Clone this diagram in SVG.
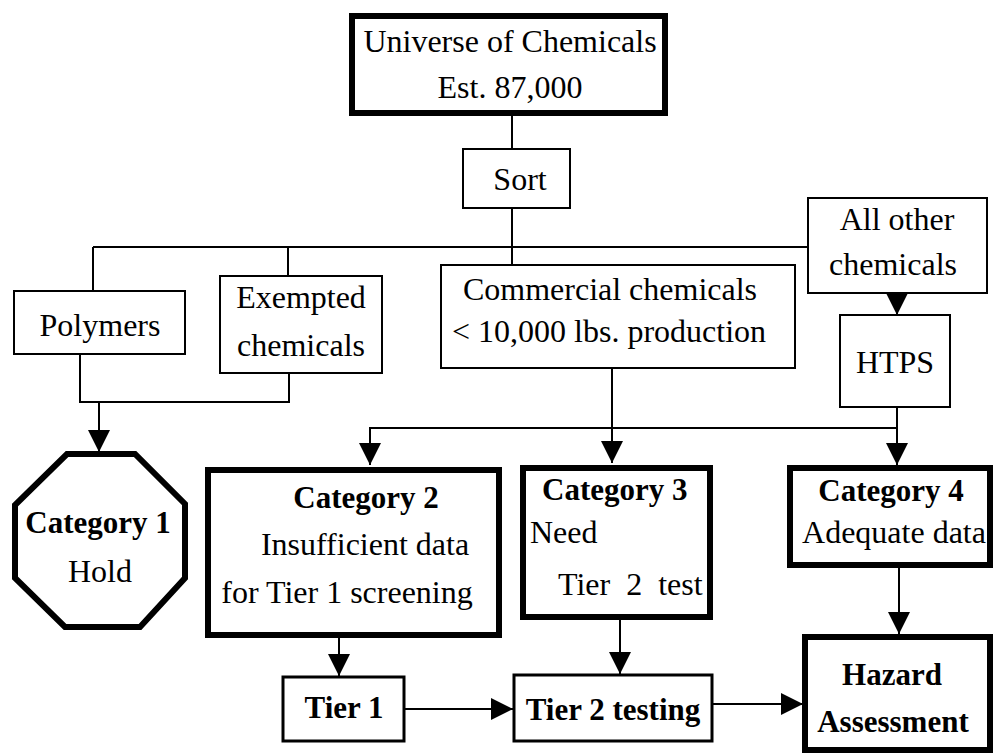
<svg xmlns="http://www.w3.org/2000/svg" width="997" height="756" viewBox="0 0 997 756">
<style>
text{font-family:"Liberation Serif","Times New Roman",serif;font-size:32px;fill:#000;text-anchor:middle}
text.b{font-weight:bold;font-size:31px}
text.l{text-anchor:start}
.thin{fill:#fff;stroke:#000;stroke-width:2}
.mid{fill:#fff;stroke:#000;stroke-width:3}
.thick{fill:#fff;stroke:#000;stroke-width:6}
.c{fill:none;stroke:#000;stroke-width:2}
</style>
<defs>
<marker id="ah" markerUnits="userSpaceOnUse" markerWidth="24" markerHeight="24" refX="22" refY="11" orient="auto" viewBox="0 0 24 24">
<path d="M0,0 L22,11 L0,22 Z" fill="#000"/>
</marker>
</defs>
<rect width="997" height="756" fill="#fff"/>
<g id="connectors">
<line class="c" x1="512" y1="116" x2="512" y2="148"/>
<line class="c" x1="512" y1="209" x2="512" y2="265"/>
<line class="c" x1="93" y1="247" x2="808" y2="247"/>
<line class="c" x1="93" y1="247" x2="93" y2="291"/>
<line class="c" x1="288" y1="247" x2="288" y2="276"/>
<polyline class="c" points="80,354 80,402 289,402 289,373"/>
<line class="c" x1="99" y1="402" x2="99" y2="452" marker-end="url(#ah)"/>
<line class="c" x1="897" y1="293" x2="897" y2="315" marker-end="url(#ah)"/>
<line class="c" x1="897" y1="407" x2="897" y2="465" marker-end="url(#ah)"/>
<line class="c" x1="370" y1="428" x2="897" y2="428"/>
<line class="c" x1="370" y1="427" x2="370" y2="465" marker-end="url(#ah)"/>
<line class="c" x1="612" y1="368" x2="612" y2="463" marker-end="url(#ah)"/>
<line class="c" x1="339" y1="638" x2="339" y2="676" marker-end="url(#ah)"/>
<line class="c" x1="620" y1="620" x2="620" y2="674" marker-end="url(#ah)"/>
<line class="c" x1="899" y1="568" x2="899" y2="634" marker-end="url(#ah)"/>
<line class="c" x1="405" y1="709" x2="513" y2="709" marker-end="url(#ah)"/>
<line class="c" x1="713" y1="704" x2="803" y2="704" marker-end="url(#ah)"/>
</g>
<g id="universe">
<rect class="thick" x="352" y="16" width="313" height="97"/>
<text x="510" y="52">Universe of Chemicals</text>
<text x="510" y="98">Est. 87,000</text>
</g>
<g id="sort">
<rect class="thin" x="463" y="149" width="107" height="59"/>
<text x="520" y="190">Sort</text>
</g>
<g id="allother">
<rect class="thin" x="808" y="198" width="179" height="95"/>
<text x="897" y="230">All other</text>
<text x="893" y="275">chemicals</text>
</g>
<g id="polymers">
<rect class="thin" x="14" y="291" width="171" height="63"/>
<text x="100" y="336">Polymers</text>
</g>
<g id="exempted">
<rect class="thin" x="220" y="276" width="162" height="97"/>
<text x="301" y="308">Exempted</text>
<text x="301" y="356">chemicals</text>
</g>
<g id="commercial">
<rect class="thin" x="441" y="265" width="354" height="103"/>
<text x="610" y="300">Commercial chemicals</text>
<text x="609" y="342">&lt; 10,000 lbs. production</text>
</g>
<g id="htps">
<rect class="thin" x="840" y="315" width="110" height="92"/>
<text x="895" y="373">HTPS</text>
</g>
<g id="cat1">
<polygon class="thick" points="67,454 135,454 185,504 185,578 140,627 65,627 15,578 15,505"/>
<text class="b" x="98" y="533">Category 1</text>
<text x="100" y="582">Hold</text>
</g>
<g id="cat2">
<rect class="thick" x="208" y="470" width="291" height="165"/>
<text class="b" x="366" y="508">Category 2</text>
<text x="365" y="555">Insufficient data</text>
<text x="347" y="603">for Tier 1 screening</text>
</g>
<g id="cat3">
<rect class="thick" x="523" y="468" width="187" height="149"/>
<text class="b l" x="542" y="500">Category 3</text>
<text class="l" x="530" y="543">Need</text>
<text class="l" x="558" y="595" word-spacing="8">Tier 2 test</text>
</g>
<g id="cat4">
<rect class="thick" x="790" y="468" width="200" height="97"/>
<text class="b" x="891" y="501">Category 4</text>
<text x="894" y="543">Adequate data</text>
</g>
<g id="hazard">
<rect class="thick" x="805" y="637" width="185" height="113"/>
<text class="b" x="892" y="685">Hazard</text>
<text class="b" x="893" y="732">Assessment</text>
</g>
<g id="tier1">
<rect class="mid" x="283" y="677" width="121" height="64"/>
<text class="b" x="344" y="718">Tier 1</text>
</g>
<g id="tier2">
<rect class="mid" x="514" y="675" width="198" height="66"/>
<text class="b" x="613" y="720">Tier 2 testing</text>
</g>
</svg>
